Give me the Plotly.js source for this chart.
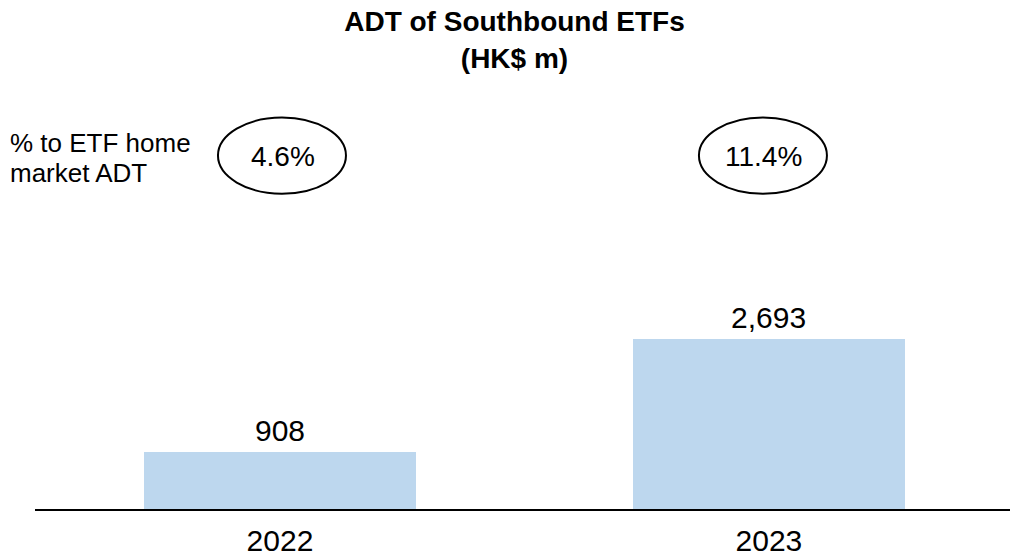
<!DOCTYPE html>
<html>
<head>
<meta charset="utf-8">
<script src="https://cdn.plot.ly/plotly-3.0.1.min.js"></script>
<style>html,body{margin:0;padding:0;background:#fff;}#chart{width:1010px;height:557px;}</style>
</head>
<body>
<div id="chart"></div>
<script>
// Data
const years = ['2022', '2023'];
const adtValues = [908, 2693];
const pctToHomeMarket = ['4.6%', '11.4%'];
const titleText = '<b>ADT of Southbound ETFs<br>(HK$ m)</b>';
const sideLabelLines = ['% to ETF home', 'market ADT'];

const FONT = '"Liberation Sans", Arial, Helvetica, sans-serif';
const ellipseOffsets = [2, -6]; // pixel shift of ellipse relative to bar centre

const trace = {
  type: 'bar',
  x: years,
  y: adtValues,
  width: 0.556,
  marker: {color: '#BDD7EE', line: {width: 0}},
  hoverinfo: 'x+y'
};

const fmt = v => v.toLocaleString('en-US');

const shapes = years.map((yr, i) => ({
  type: 'circle',
  xref: 'x', xsizemode: 'pixel', xanchor: i,
  x0: -64 + ellipseOffsets[i], x1: 64 + ellipseOffsets[i],
  yref: 'paper', y0: 0.771, y1: 0.957,
  line: {color: '#000', width: 2},
  fillcolor: 'rgba(0,0,0,0)'
}));

const annotations = years.map((yr, i) => ({
  xref: 'x', x: i, xshift: ellipseOffsets[i] + 1,
  yref: 'paper', y: 0.862,
  text: pctToHomeMarket[i],
  showarrow: false,
  xanchor: 'center', yanchor: 'middle',
  font: {family: FONT, size: 28, color: '#000'}
}));

// value labels above bars
years.forEach((yr, i) => {
  annotations.push({
    xref: 'x', x: i, yref: 'y', y: adtValues[i],
    yanchor: 'bottom', xanchor: 'center', yshift: 3,
    text: fmt(adtValues[i]), showarrow: false,
    font: {family: FONT, size: 30, color: '#000'}
  });
});

// side label, two lines
sideLabelLines.forEach((t, k) => {
  annotations.push({
    xref: 'paper', x: -0.0276, xanchor: 'left',
    yref: 'paper', y: 0.895 - k * 0.0733, yanchor: 'middle',
    text: t, align: 'left', showarrow: false,
    font: {family: FONT, size: 26, color: '#000'}
  });
});

const layout = {
  width: 1010, height: 557,
  margin: {l: 35, r: 0, t: 100, b: 48, pad: 0},
  paper_bgcolor: '#fff', plot_bgcolor: '#fff',
  title: {
    text: titleText,
    font: {family: FONT, size: 28, color: '#000'},
    xref: 'container', x: 0.5094, xanchor: 'center',
    yref: 'container', y: 0.944, yanchor: 'top'
  },
  showlegend: false,
  bargap: 0,
  xaxis: {
    type: 'category',
    range: [-0.501, 1.493],
    showline: true, linecolor: '#000', linewidth: 2,
    ticks: '', showgrid: false, zeroline: false,
    tickfont: {family: FONT, size: 30, color: '#000'},
    ticklabelstandoff: 4
  },
  yaxis: {
    range: [0, 6479],
    visible: false, showgrid: false, zeroline: false
  },
  shapes: shapes,
  annotations: annotations
};

Plotly.newPlot('chart', [trace], layout, {displayModeBar: false, staticPlot: true});
</script>
</body>
</html>
